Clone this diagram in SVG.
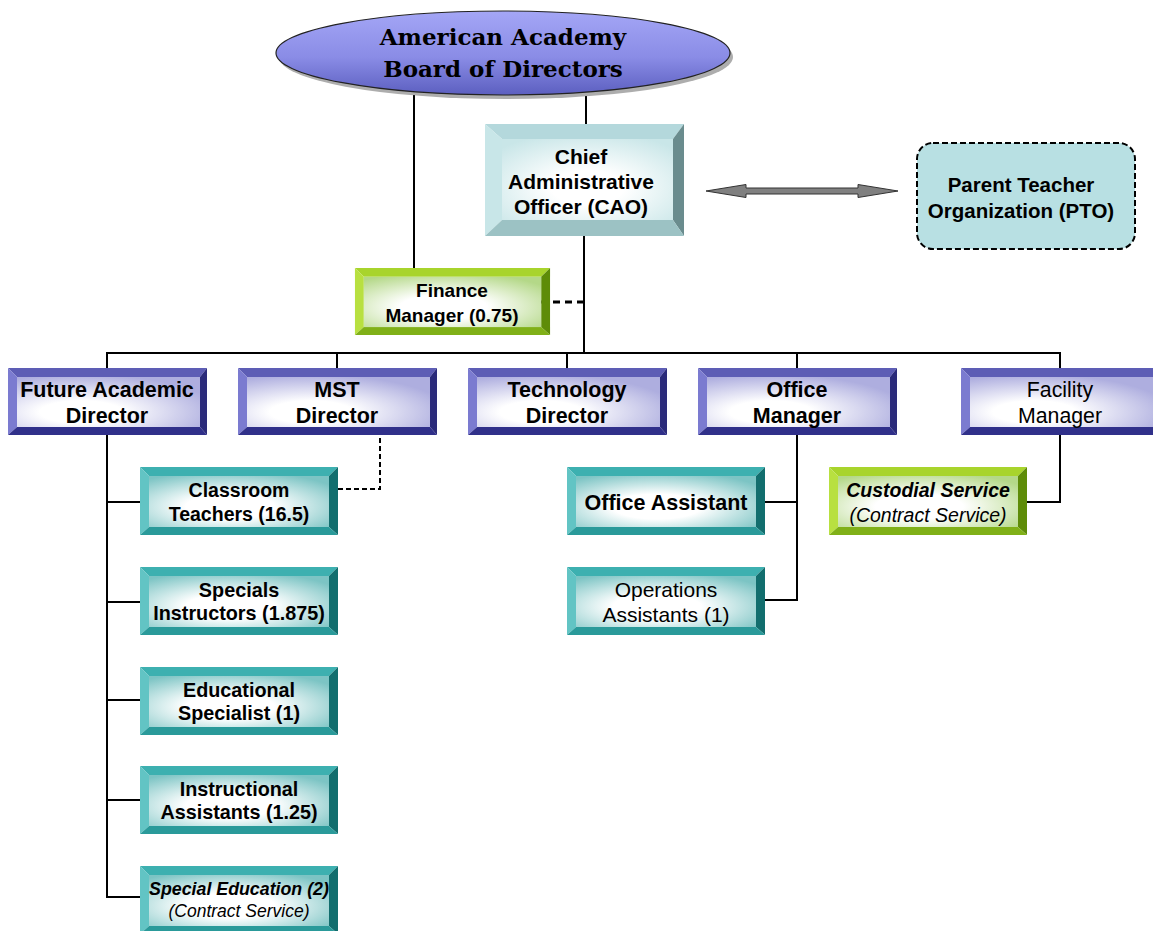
<svg xmlns="http://www.w3.org/2000/svg" xmlns:xlink="http://www.w3.org/1999/xlink" width="1153" height="931" viewBox="0 0 1153 931">
<style>
.t{font-family:"Liberation Sans",Arial,sans-serif;fill:#000;text-anchor:middle}
.b{font-weight:bold}
.i{font-style:italic}
.ln{stroke:#000;stroke-width:2;fill:none}
</style>
<defs>
<linearGradient id="gEll" x1="0" y1="0" x2="0" y2="1">
<stop offset="0" stop-color="#a4a6f6"/><stop offset="0.55" stop-color="#8a8ce6"/><stop offset="1" stop-color="#5c5fc0"/>
</linearGradient>
<radialGradient id="gDir" cx="0.35" cy="0.7" r="0.75">
<stop offset="0.3" stop-color="#ffffff"/><stop offset="1" stop-color="#aeaedf"/>
</radialGradient>
<radialGradient id="gTeal" cx="0.45" cy="0.6" r="0.7">
<stop offset="0.35" stop-color="#ffffff"/><stop offset="1" stop-color="#7cc4c4"/>
</radialGradient>
<radialGradient id="gGrn" cx="0.45" cy="0.6" r="0.7">
<stop offset="0.35" stop-color="#ffffff"/><stop offset="1" stop-color="#b4d888"/>
</radialGradient>
<radialGradient id="gCao" cx="0.5" cy="0.6" r="0.7">
<stop offset="0.3" stop-color="#ffffff"/><stop offset="1" stop-color="#c9e6e8"/>
</radialGradient>
<symbol id="bxDir" viewBox="0 0 199 67">
<polygon points="0,0 199,0 192,9 9,9" fill="#5d5db5"/>
<polygon points="0,0 9,9 9,59 0,67" fill="#7b7bd0"/>
<polygon points="199,0 199,67 192,59 192,9" fill="#2b2b7a"/>
<polygon points="0,67 9,59 192,59 199,67" fill="#30308a"/>
<rect x="9" y="9" width="183" height="50" fill="url(#gDir)"/>
</symbol>
<symbol id="bxTeal" viewBox="0 0 198 68">
<polygon points="0,0 198,0 189,9 9,9" fill="#3db0b0"/>
<polygon points="0,0 9,9 9,60 0,68" fill="#62c4c4"/>
<polygon points="198,0 198,68 189,60 189,9" fill="#126e6e"/>
<polygon points="0,68 9,60 189,60 198,68" fill="#2a9a9a"/>
<rect x="9" y="9" width="180" height="51" fill="url(#gTeal)"/>
</symbol>
<symbol id="bxGrn" viewBox="0 0 198 68">
<polygon points="0,0 198,0 189,9 9,9" fill="#a8d42c"/>
<polygon points="0,0 9,9 9,60 0,68" fill="#b8e040"/>
<polygon points="198,0 198,68 189,60 189,9" fill="#5e8c08"/>
<polygon points="0,68 9,60 189,60 198,68" fill="#80b018"/>
<rect x="9" y="9" width="180" height="51" fill="url(#gGrn)"/>
</symbol>
<symbol id="bxCao" viewBox="0 0 199 112">
<polygon points="0,0 199,0 188,15 17,15" fill="#b4d8dc"/>
<polygon points="0,0 17,15 17,96 0,112" fill="#c8e6e8"/>
<polygon points="199,0 199,112 188,96 188,15" fill="#6a8c8e"/>
<polygon points="0,112 17,96 188,96 199,112" fill="#9cc2c4"/>
<rect x="17" y="15" width="171" height="81" fill="url(#gCao)"/>
</symbol>
</defs>

<g id="connectors">
<line class="ln" x1="414" y1="95" x2="414" y2="268"/>
<line class="ln" x1="586" y1="96" x2="586" y2="124"/>
<line class="ln" x1="584" y1="236" x2="584" y2="353"/>
<line x1="541" y1="302" x2="583" y2="302" stroke="#000" stroke-width="3" stroke-dasharray="7,5"/>
<polyline class="ln" points="107,368 107,353 1060,353 1060,368"/>
<line class="ln" x1="337" y1="353" x2="337" y2="368"/>
<line class="ln" x1="567" y1="353" x2="567" y2="368"/>
<line class="ln" x1="797" y1="353" x2="797" y2="368"/>
<line class="ln" x1="107" y1="435" x2="107" y2="898"/>
<line class="ln" x1="107" y1="502" x2="140" y2="502"/>
<line class="ln" x1="107" y1="602" x2="140" y2="602"/>
<line class="ln" x1="107" y1="700" x2="140" y2="700"/>
<line class="ln" x1="107" y1="800" x2="140" y2="800"/>
<line class="ln" x1="107" y1="897" x2="140" y2="897"/>
<polyline points="338,489 380,489 380,435" fill="none" stroke="#000" stroke-width="2" stroke-dasharray="5,3"/>
<polyline class="ln" points="765,502 797,502"/>
<polyline class="ln" points="797,435 797,600 765,600"/>
<polyline class="ln" points="1027,502 1060,502 1060,435"/>
<polygon points="706,191 746,184.5 746,188 858,188 858,184.5 898,191 858,197.5 858,194 746,194 746,197.5" fill="#808080" stroke="#333" stroke-width="1"/>
</g>

<g id="board">
<ellipse cx="506" cy="57" rx="227" ry="42" fill="#777" opacity="0.6"/>
<ellipse cx="503" cy="53" rx="227" ry="42" fill="url(#gEll)" stroke="#222" stroke-width="1.2"/>
<text x="503" y="45" font-family="'DejaVu Serif','Liberation Serif',serif" font-weight="bold" font-size="23" text-anchor="middle">American Academy</text>
<text x="503" y="77" font-family="'DejaVu Serif','Liberation Serif',serif" font-weight="bold" font-size="23" text-anchor="middle">Board of Directors</text>
</g>

<g id="cao">
<use href="#bxCao" x="485" y="124" width="199" height="112"/>
<text class="t b" x="581" y="164" font-size="21">Chief</text>
<text class="t b" x="581" y="189" font-size="21">Administrative</text>
<text class="t b" x="581" y="214" font-size="21">Officer (CAO)</text>
</g>

<g id="pto">
<rect x="917" y="143" width="218" height="106" rx="16" fill="#b8e0e3" stroke="#000" stroke-width="2" stroke-dasharray="6,3"/>
<text class="t b" x="1021" y="192" font-size="20.5">Parent Teacher</text>
<text class="t b" x="1021" y="218" font-size="20.5">Organization (PTO)</text>
</g>

<g id="finance">
<use href="#bxGrn" x="353" y="268" width="199" height="67"/>
<text class="t b" x="452" y="297" font-size="19">Finance</text>
<text class="t b" x="452" y="322" font-size="19">Manager (0.75)</text>
</g>

<g id="fad">
<use href="#bxDir" x="8" y="368" width="199" height="67"/>
<text class="t b" x="107" y="397" font-size="21.5">Future Academic</text>
<text class="t b" x="107" y="423" font-size="21.5">Director</text>
</g>
<g id="mst">
<use href="#bxDir" x="238" y="368" width="199" height="67"/>
<text class="t b" x="337" y="397" font-size="21.5">MST</text>
<text class="t b" x="337" y="423" font-size="21.5">Director</text>
</g>
<g id="tech">
<use href="#bxDir" x="468" y="368" width="199" height="67"/>
<text class="t b" x="567" y="397" font-size="21.5">Technology</text>
<text class="t b" x="567" y="423" font-size="21.5">Director</text>
</g>
<g id="office-manager">
<use href="#bxDir" x="698" y="368" width="199" height="67"/>
<text class="t b" x="797" y="397" font-size="21.5">Office</text>
<text class="t b" x="797" y="423" font-size="21.5">Manager</text>
</g>
<g id="facility">
<use href="#bxDir" x="961" y="368" width="199" height="67"/>
<text class="t" x="1060" y="397" font-size="21.3">Facility</text>
<text class="t" x="1060" y="423" font-size="21.3">Manager</text>
</g>

<g id="classroom">
<use href="#bxTeal" x="140" y="467" width="198" height="68"/>
<text class="t b" x="239" y="497" font-size="19.5">Classroom</text>
<text class="t b" x="239" y="521" font-size="19.5">Teachers (16.5)</text>
</g>
<g id="specials">
<use href="#bxTeal" x="140" y="567" width="198" height="68"/>
<text class="t b" x="239" y="597" font-size="19.8">Specials</text>
<text class="t b" x="239" y="620" font-size="19.8">Instructors (1.875)</text>
</g>
<g id="edspec">
<use href="#bxTeal" x="140" y="667" width="198" height="68"/>
<text class="t b" x="239" y="697" font-size="19.8">Educational</text>
<text class="t b" x="239" y="720" font-size="19.8">Specialist (1)</text>
</g>
<g id="instr">
<use href="#bxTeal" x="140" y="766" width="198" height="68"/>
<text class="t b" x="239" y="796" font-size="19.8">Instructional</text>
<text class="t b" x="239" y="819" font-size="19.8">Assistants (1.25)</text>
</g>
<g id="sped">
<use href="#bxTeal" x="140" y="866" width="198" height="68"/>
<text class="t b i" x="239" y="895" font-size="17.8">Special Education (2)</text>
<text class="t i" x="239" y="917" font-size="17.5">(Contract Service)</text>
</g>

<g id="office-assistant">
<use href="#bxTeal" x="567" y="467" width="198" height="68"/>
<text class="t b" x="666" y="510" font-size="21.5">Office Assistant</text>
</g>
<g id="ops">
<use href="#bxTeal" x="567" y="567" width="198" height="68"/>
<text class="t" x="666" y="597" font-size="21">Operations</text>
<text class="t" x="666" y="622" font-size="21">Assistants (1)</text>
</g>

<g id="custodial">
<use href="#bxGrn" x="829" y="467" width="198" height="68"/>
<text class="t b i" x="928" y="497" font-size="19.5">Custodial Service</text>
<text class="t i" x="928" y="522" font-size="19.5">(Contract Service)</text>
</g>
</svg>
